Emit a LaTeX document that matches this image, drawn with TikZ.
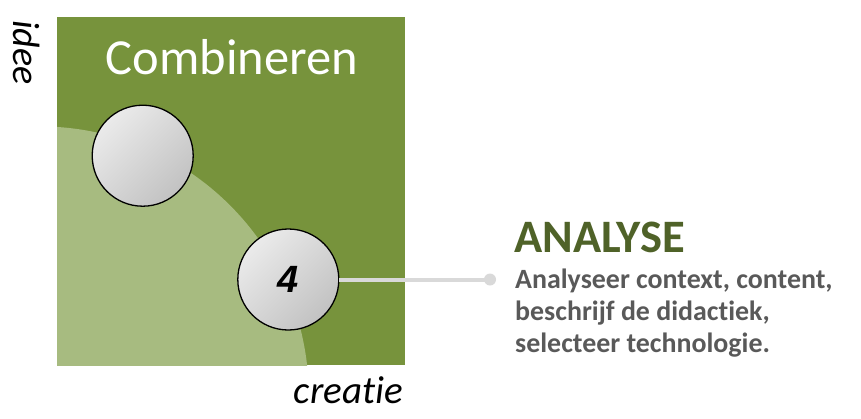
\documentclass[tikz,border=0pt]{standalone}
\usepackage{fontspec}
\setmainfont{Carlito}[Ligatures=NoCommon]
\newfontfamily\numfont{Liberation Sans}
\definecolor{darkg}{HTML}{77933C}
\definecolor{lightg}{HTML}{A7BB80}
\definecolor{titleg}{HTML}{4F6228}
\definecolor{bodyg}{HTML}{595959}
\definecolor{connc}{HTML}{D9D9D9}
\tikzset{
  ball/.style={circle, draw=black, line width=1.3pt, minimum size=101pt, inner sep=0pt,
    top color=white!92!black, bottom color=white!76!black, shading angle=45},
  conn/.style={draw=connc, line width=4pt},
  enddot/.style={circle, fill=connc, minimum size=12pt, inner sep=0pt},
  body/.style={anchor=base west, inner sep=0pt, text=bodyg, font=\bfseries\fontsize{27.9}{32}\selectfont},
}
\begin{document}
\begin{tikzpicture}[x=1pt,y=-1pt]
\useasboundingbox (0,0) rectangle (861,418);
\fill[darkg] (57,17) rectangle (405,365);
\begin{scope}
  \clip (57,17) rectangle (405,365);
  \fill[lightg] (39.5,395.7) circle (269.3pt);
\end{scope}
\node[anchor=base, inner sep=0pt, text=white, font=\fontsize{50.5}{58}\selectfont] (title) at (232,74) {Combineren};
\node[anchor=base west, inner sep=0pt, rotate=-90, font=\itshape\fontsize{38}{44}\selectfont] (idee) at (13,20) {idee};
\node[anchor=base east, inner sep=0pt, font=\itshape\fontsize{39}{45}\selectfont] (creatie) at (403,403) {creatie};
\node[ball] (c1) at (142.7,155.7) {};
\node[ball, font=\numfont\bfseries\itshape\fontsize{38}{44}\selectfont] (c2) at (288.3,279.5) {4};
\node[enddot] (dot) at (490,279.5) {};
\draw[conn] (c2.east) -- (dot.center);
\node[anchor=base west, inner sep=0pt, text=titleg, font=\bfseries\fontsize{46.5}{52}\selectfont] (ana) at (514,252) {ANALYSE};
\node[body] (l1) at (515,288) {Analyseer context, content,};
\node[body] (l2) at (515,320) {beschrijf de didactiek,};
\node[body] (l3) at (515,352) {selecteer technologie.};
\end{tikzpicture}
\end{document}
